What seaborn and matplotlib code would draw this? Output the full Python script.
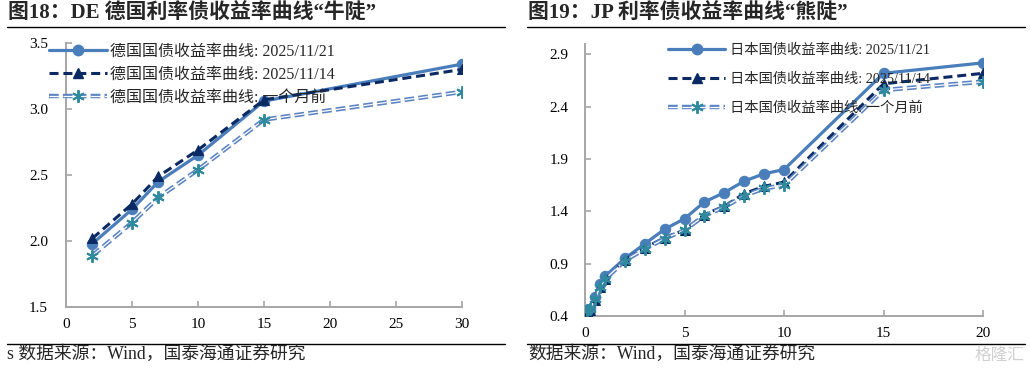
import matplotlib
matplotlib.use("Agg")
import matplotlib.pyplot as plt
import seaborn as sns
from matplotlib.lines import Line2D
from matplotlib.legend_handler import HandlerTuple

# ---------------- data ----------------
de_tenor = [2, 5, 7, 10, 15, 30]
de_1121 = [1.98, 2.24, 2.45, 2.65, 3.06, 3.34]
de_1114 = [2.02, 2.28, 2.49, 2.69, 3.07, 3.30]
de_1m = [1.89, 2.14, 2.33, 2.54, 2.92, 3.13]

jp_tenor = [0.08, 0.25, 0.5, 0.75, 1, 2, 3, 4, 5, 6, 7, 8, 9, 10, 15, 20]
jp_1121 = [0.46, 0.47, 0.58, 0.71, 0.78, 0.95, 1.09, 1.23, 1.33, 1.49, 1.58, 1.69, 1.76, 1.80, 2.72, 2.82]
jp_1114 = [0.45, 0.46, 0.55, 0.68, 0.75, 0.94, 1.05, 1.15, 1.22, 1.37, 1.45, 1.57, 1.64, 1.68, 2.62, 2.72]
jp_1m = [0.46, 0.47, 0.56, 0.68, 0.75, 0.93, 1.04, 1.14, 1.22, 1.36, 1.44, 1.55, 1.62, 1.65, 2.56, 2.64]

de_labels = ["德国国债收益率曲线: 2025/11/21", "德国国债收益率曲线: 2025/11/14", "德国国债收益率曲线: 一个月前"]
jp_labels = ["日本国债收益率曲线: 2025/11/21", "日本国债收益率曲线: 2025/11/14", "日本国债收益率曲线: 一个月前"]
de_xticks = [0, 5, 10, 15, 20, 25, 30]
de_yticks = [1.5, 2.0, 2.5, 3.0, 3.5]
jp_xticks = [0, 5, 10, 15, 20]
jp_yticks = [0.4, 0.9, 1.4, 1.9, 2.4, 2.9]

title_de = "图18：DE 德国利率债收益率曲线“牛陡”"
title_jp = "图19：JP 利率债收益率曲线“熊陡”"
src_de = "s 数据来源：Wind，国泰海通证券研究"
src_jp = "数据来源：Wind，国泰海通证券研究"

# ---------------- style ----------------
sns.set_theme(style="white")
FAM = ["Liberation Serif", "Noto Sans CJK SC"]
plt.rcParams["font.family"] = FAM
plt.rcParams["lines.scale_dashes"] = False

C_CIRC = "#4A7EBB"
C_TRI = "#0B2A63"
C_DBL = "#5B83C2"
C_STAR = "#2F8A9E"
GREY = "#A6A6A6"

STAR = (6, 2, 0)

fig = plt.figure(figsize=(10.30, 3.75), dpi=100)
ax1 = fig.add_axes([0.0641, 0.1813, 0.3845, 0.704])
ax2 = fig.add_axes([0.568, 0.1573, 0.3864, 0.7253])


def draw(ax, x, s1, s2, s3, ms):
    sns.lineplot(x=x, y=s1, ax=ax, color=C_CIRC, linewidth=2.3, marker="o",
                 markersize=ms, markeredgecolor=C_CIRC, markerfacecolor=C_CIRC, zorder=3)
    sns.lineplot(x=x, y=s2, ax=ax, color=C_TRI, linewidth=2.2,
                 linestyle=(0, (6.5, 3.5)), marker="^", markersize=ms,
                 markeredgecolor=C_TRI, markerfacecolor=C_TRI, zorder=4)
    sns.lineplot(x=x, y=s3, ax=ax, color=C_DBL, linewidth=3.2,
                 linestyle=(0, (7, 3)), zorder=5)
    sns.lineplot(x=x, y=s3, ax=ax, color="white", linewidth=0.9,
                 linestyle=(0, (7, 3)), zorder=5.1)
    sns.lineplot(x=x, y=s3, ax=ax, color=C_STAR, linestyle="", marker=STAR,
                 markersize=ms + 1.5, markeredgewidth=1.4, markeredgecolor=C_STAR, zorder=5.2)


draw(ax1, de_tenor, de_1121, de_1114, de_1m, 7.5)
draw(ax2, jp_tenor, jp_1121, jp_1114, jp_1m, 7.5)


def style_axes(ax, xt, yt, xlim, ylim, yfmt, xpad, ypad):
    ax.set_xlim(*xlim)
    ax.set_ylim(*ylim)
    ax.set_xticks(xt)
    ax.set_yticks(yt)
    ax.set_xticklabels([str(v) for v in xt])
    ax.set_yticklabels([yfmt.format(v) for v in yt])
    for s in ["top", "right"]:
        ax.spines[s].set_visible(False)
    for s in ["left", "bottom"]:
        ax.spines[s].set_color(GREY)
        ax.spines[s].set_linewidth(1.4)
    ax.tick_params(axis="both", direction="in", length=4, width=1.2, color=GREY,
                   labelsize=11, labelcolor="black")
    ax.tick_params(axis="x", pad=xpad, bottom=True)
    ax.tick_params(axis="y", pad=ypad, left=True)
    ax.set_xlabel("")
    ax.set_ylabel("")
    ax.grid(False)
    ax.patch.set_alpha(0)


style_axes(ax1, de_xticks, de_yticks, (0, 30), (1.5, 3.5), "{:.1f}", 8, 13)
style_axes(ax2, jp_xticks, jp_yticks, (0, 20), (0.4, 3.0), "{:.1f}", 8, 12)


def handles():
    h1 = Line2D([], [], color=C_CIRC, linewidth=2.3, marker="o", markersize=7.5)
    h2 = Line2D([], [], color=C_TRI, linewidth=2.2, linestyle=(0, (6.5, 3.5)),
                marker="^", markersize=7)
    h3a = Line2D([], [], color=C_DBL, linewidth=3.2, linestyle=(0, (7, 3)))
    h3b = Line2D([], [], color="white", linewidth=0.9, linestyle=(0, (7, 3)))
    h3c = Line2D([], [], color=C_STAR, linestyle="", marker=STAR, markersize=9,
                 markeredgewidth=1.4)
    return [h1, h2, (h3a, h3b, h3c)]


hmap = {tuple: HandlerTuple(ndivide=1, pad=0)}
leg1 = fig.legend(handles(), de_labels, loc="upper left",
                  bbox_to_anchor=(49 / 1030, 1 - 44 / 375), frameon=False,
                  fontsize=11.5, handlelength=3.6, handletextpad=0.25,
                  labelspacing=0.42, borderpad=0, borderaxespad=0,
                  handler_map=hmap)
leg2 = fig.legend(handles(), jp_labels, loc="upper left",
                  bbox_to_anchor=(668 / 1030, 1 - 44 / 375), frameon=False,
                  fontsize=10.3, handlelength=4.0, handletextpad=0.35,
                  labelspacing=1.08, borderpad=0, borderaxespad=0,
                  handler_map=hmap)

# titles
fig.text(8 / 1030, 1 - 14 / 375, title_de, fontsize=15, fontweight="bold",
         ha="left", va="center", family=FAM)
fig.text(528 / 1030, 1 - 14 / 375, title_jp, fontsize=15, fontweight="bold",
         ha="left", va="center", family=FAM)

# rules
for (x0, x1) in [(7, 505), (527, 1025)]:
    for y in (26.5, 343.5):
        fig.add_artist(Line2D([x0 / 1030, x1 / 1030], [1 - y / 375, 1 - y / 375],
                              transform=fig.transFigure, color="black", linewidth=1.0))

# sources
fig.text(7 / 1030, 1 - 354 / 375, src_de, fontsize=12.8, ha="left", va="center", family=FAM)
fig.text(528 / 1030, 1 - 354 / 375, src_jp, fontsize=12.8, ha="left", va="center", family=FAM)
fig.text(1024 / 1030, 1 - 356 / 375, "格隆汇", fontsize=12, ha="right", va="center",
         color="#D0D0D0", family=FAM)

fig.savefig("out.png", dpi=100, facecolor="white")
